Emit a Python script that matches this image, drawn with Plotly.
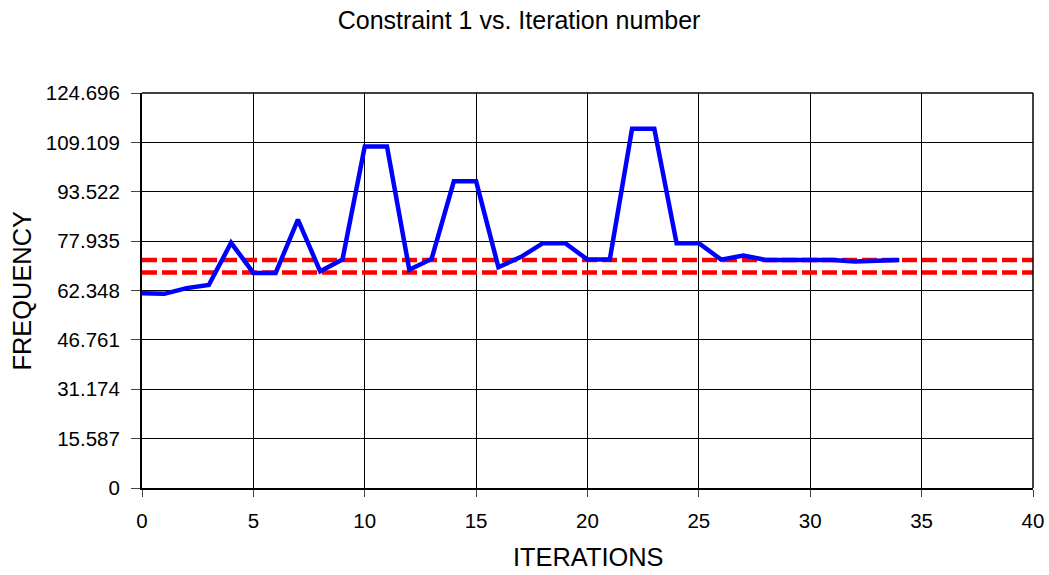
import plotly.graph_objects as go

iterations = list(range(0, 35))
frequency = [61.5, 61.3, 63.1, 64.1, 77.4, 67.9, 67.9, 84.7, 68.4, 72.1,
             107.8, 107.8, 68.9, 72.3, 96.8, 96.8, 69.7, 72.9, 77.3, 77.3,
             72.1, 72.1, 113.4, 113.4, 77.3, 77.3, 72.1, 73.4, 72.0, 72.0,
             72.0, 72.0, 71.5, 71.8, 72.0]
upper_limit = 72.0
lower_limit = 68.0
limit_x = [0, 40]

y_ticks = [0, 15.587, 31.174, 46.761, 62.348, 77.935, 93.522, 109.109, 124.696]
y_ticktext = ["0", "15.587", "31.174", "46.761", "62.348", "77.935", "93.522", "109.109", "124.696"]
x_ticks = [0, 5, 10, 15, 20, 25, 30, 35, 40]

FONT = "Liberation Sans, Arial, sans-serif"

fig = go.Figure()
for lim in (upper_limit, lower_limit):
    fig.add_trace(go.Scatter(x=limit_x, y=[lim, lim], mode="lines",
                             line=dict(color="#FF0000", width=4.5, dash="15px,5px"),
                             showlegend=False, hoverinfo="skip"))
fig.add_trace(go.Scatter(x=iterations, y=frequency, mode="lines",
                         line=dict(color="#0000FF", width=4.5),
                         showlegend=False))

fig.update_layout(
    width=1049, height=575,
    margin=dict(l=142, r=16, t=93, b=87),
    paper_bgcolor="white", plot_bgcolor="white",
    font=dict(family=FONT, color="black", size=20),
    title=dict(text="Constraint 1 vs. Iteration number", x=0.4948, xref="container",
               y=1 - 20 / 575, yref="container", xanchor="center", yanchor="middle",
               font=dict(size=25, family=FONT, color="black")),
    xaxis=dict(range=[0, 40], tickvals=x_ticks, showgrid=True, gridcolor="black", gridwidth=1,
               showline=True, linecolor="black", linewidth=2, ticks="outside", ticklen=7,
               tickcolor="#444", zeroline=False, tickfont=dict(size=20.5),
               ticklabelstandoff=6, automargin=False),
    yaxis=dict(range=[0, 124.696], tickvals=y_ticks, ticktext=y_ticktext, showgrid=True,
               gridcolor="black", gridwidth=1, showline=True, linecolor="black", linewidth=2,
               ticks="outside", ticklen=9, tickcolor="#444", zeroline=False,
               tickfont=dict(size=20.5), ticklabelstandoff=7, automargin=False),
    shapes=[
        dict(type="line", xref="paper", yref="paper", x0=0, x1=1, y0=1, y1=1,
             line=dict(color="black", width=1.5)),
        dict(type="line", xref="paper", yref="paper", x0=1, x1=1, y0=0, y1=1,
             line=dict(color="black", width=1.5)),
    ],
    annotations=[
        dict(text="ITERATIONS", xref="paper", yref="paper", x=0.5, y=-0.175,
             xanchor="center", yanchor="middle", showarrow=False,
             font=dict(size=25.4, family=FONT, color="black")),
        dict(text="FREQUENCY", xref="paper", yref="paper", x=-0.1347, y=0.5,
             xanchor="center", yanchor="middle", showarrow=False, textangle=-90,
             font=dict(size=25.4, family=FONT, color="black")),
    ],
)

fig.write_html("out.html", config={"displayModeBar": False},
               post_script="document.body.style.margin='0';document.body.style.overflow='hidden';")
